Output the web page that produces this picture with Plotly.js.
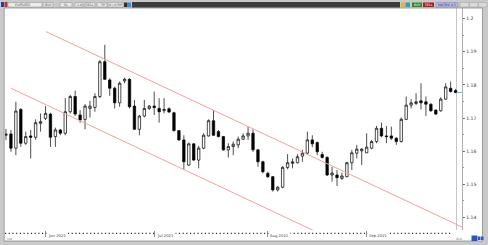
<!DOCTYPE html>
<html><head><meta charset="utf-8">
<script src="https://cdn.plot.ly/plotly-3.0.1.min.js"></script>
<style>html,body{margin:0;padding:0;background:#fff;overflow:hidden}#chart{width:488px;height:245px}</style>
</head><body><div id="chart"></div>
<script>
// Daily EURUSD candles
const openP  = [1.1648,1.1652,1.1609,1.1726,1.1624,1.1646,1.1642,1.1684,1.1699,1.1712,1.1644,1.1664,1.1654,1.1719,1.1765,1.1709,1.1696,1.1729,1.1732,1.1765,1.1870,1.1815,1.1790,1.1746,1.1812,1.1817,1.1736,1.1666,1.1706,1.1729,1.1736,1.1729,1.1722,1.1728,1.1716,1.1662,1.1634,1.1558,1.1622,1.1573,1.1609,1.1646,1.1692,1.1659,1.1644,1.1604,1.1614,1.1619,1.1636,1.1646,1.1654,1.1604,1.1568,1.1533,1.1523,1.1483,1.1491,1.1551,1.1563,1.1565,1.1585,1.1594,1.1634,1.1626,1.1590,1.1581,1.1528,1.1528,1.1518,1.1523,1.1565,1.1594,1.1601,1.1595,1.1609,1.1629,1.1669,1.1646,1.1646,1.1639,1.1629,1.1696,1.1739,1.1744,1.1752,1.1749,1.1742,1.1724,1.1722,1.1757,1.1790,1.1783];
const highP  = [1.1667,1.1664,1.1749,1.1730,1.1659,1.1664,1.1696,1.1714,1.1736,1.1716,1.1671,1.1667,1.1760,1.1770,1.1783,1.1724,1.1742,1.1752,1.1775,1.1875,1.1921,1.1820,1.1795,1.1810,1.1822,1.1820,1.1755,1.1709,1.1755,1.1739,1.1780,1.1760,1.1760,1.1732,1.1719,1.1664,1.1648,1.1626,1.1624,1.1616,1.1654,1.1696,1.1724,1.1664,1.1646,1.1624,1.1629,1.1644,1.1654,1.1674,1.1666,1.1606,1.1571,1.1538,1.1525,1.1495,1.1555,1.1591,1.1578,1.1591,1.1604,1.1659,1.1648,1.1629,1.1598,1.1585,1.1553,1.1543,1.1535,1.1568,1.1604,1.1619,1.1609,1.1654,1.1634,1.1676,1.1686,1.1676,1.1674,1.1642,1.1702,1.1765,1.1757,1.1775,1.1805,1.1765,1.1744,1.1726,1.1763,1.1805,1.1810,1.1788];
const lowP   = [1.1634,1.1598,1.1588,1.1613,1.1619,1.1578,1.1634,1.1659,1.1694,1.1613,1.1613,1.1648,1.1648,1.1714,1.1706,1.1686,1.1666,1.1702,1.1719,1.1760,1.1815,1.1767,1.1729,1.1734,1.1805,1.1729,1.1664,1.1648,1.1702,1.1724,1.1709,1.1686,1.1714,1.1716,1.1659,1.1631,1.1543,1.1555,1.1571,1.1548,1.1606,1.1644,1.1646,1.1642,1.1601,1.1581,1.1588,1.1609,1.1634,1.1634,1.1598,1.1553,1.1533,1.1519,1.1478,1.1478,1.1488,1.1545,1.1548,1.1563,1.1568,1.1591,1.1612,1.1588,1.1578,1.1525,1.1508,1.1495,1.1513,1.1521,1.1543,1.1578,1.1558,1.1594,1.1606,1.1624,1.1642,1.1624,1.1634,1.1619,1.1626,1.1694,1.1729,1.1739,1.1726,1.1706,1.1719,1.1709,1.1719,1.1755,1.1777,1.1775];
const closeP = [1.1651,1.1609,1.1721,1.1624,1.1644,1.1642,1.1686,1.1689,1.1714,1.1642,1.1664,1.1654,1.1719,1.1765,1.1712,1.1694,1.1736,1.1736,1.1765,1.1870,1.1817,1.1790,1.1746,1.1805,1.1817,1.1734,1.1666,1.1706,1.1729,1.1736,1.1732,1.1719,1.1726,1.1718,1.1662,1.1634,1.1568,1.1622,1.1573,1.1609,1.1648,1.1692,1.1648,1.1644,1.1604,1.1614,1.1621,1.1636,1.1646,1.1654,1.1604,1.1568,1.1538,1.1523,1.1483,1.1491,1.1551,1.1565,1.1568,1.1583,1.1594,1.1634,1.1622,1.1598,1.1581,1.1528,1.1534,1.1520,1.1525,1.1565,1.1595,1.1606,1.1606,1.1612,1.1629,1.1669,1.1646,1.1644,1.1639,1.1629,1.1696,1.1739,1.1746,1.1749,1.1746,1.1742,1.1722,1.1712,1.1757,1.1794,1.1780,1.1777];

// Month separators on the time scale (bar index) and their labels
const monthBars   = [8, 30, 53, 73];
const monthLabels = ['Jun 2021', 'Jul 2021', 'Aug 2021', 'Sep 2021'];

// Price scale labels
const priceTicks  = [1.14, 1.15, 1.16, 1.17, 1.18, 1.19, 1.20];
const priceLabels = ['1.14', '1.15', '1.16', '1.17', '1.18', '1.19', '1.2'];

// Descending channel (bar index, price)
const upperChannelBars   = [8.1, 94];
const upperChannelPrices = [1.1961, 1.1359];
const lowerChannelBars   = [1.0, 70];
const lowerChannelPrices = [1.1790, 1.1306];

const bars = openP.map((_, i) => i);

// ---- decoration helpers (window frame, pixel -> paper) ----
const PL = 5, PR = 462, PT = 8, PB = 230;
const X = px => (px - PL) / (PR - PL);
const Y = py => (PB - py) / (PB - PT);
const shapes = [];
const ann = [];
function rect(x0, y0, x1, y1, fill, line, layer) {
  shapes.push({type:'rect', xref:'paper', yref:'paper', x0:X(x0), x1:X(x1), y0:Y(y1), y1:Y(y0),
    fillcolor:fill, line:{width: line ? 0.6 : 0, color: line || fill}, layer: layer || 'above'});
}
function hline(x0, x1, y, color, w, dash) {
  shapes.push({type:'line', xref:'paper', yref:'paper', x0:X(x0), x1:X(x1), y0:Y(y), y1:Y(y),
    line:{color, width:w||1, dash:dash||'solid'}});
}
function vline(x, y0, y1, color, w, layer) {
  shapes.push({type:'line', xref:'paper', yref:'paper', x0:X(x), x1:X(x), y0:Y(y0), y1:Y(y1),
    line:{color, width:w||1}, layer: layer || 'above'});
}
function txt(px, py, s, color, size, anchor) {
  ann.push({xref:'paper', yref:'paper', x:X(px), y:Y(py), text:s, showarrow:false,
    xanchor:anchor||'left', yanchor:'middle', font:{size:size||4, color:color||'#333', family:'DejaVu Sans'}});
}

const FRAME = '#c9c9c9';
// frame
rect(0, 0, 488, 8, FRAME);
rect(0, 0, 4, 245, FRAME);
rect(482.5, 0, 488, 245, FRAME);
rect(0, 241, 488, 245, FRAME);
hline(4, 482.5, 8, '#8a8a8a', 0.8);
hline(4, 482.5, 241, '#8a8a8a', 0.8);
vline(4.2, 8, 241, '#8a8a8a', 0.8);
vline(482.5, 8, 241, '#8a8a8a', 0.8);
vline(456.5, 8, 230, '#b8b8b8', 0.8, 'below');
// toolbar
rect(1, 2, 4, 7, '#2a3f9a');
rect(4.5, 2, 7.5, 7, '#c23535');
rect(8, 2.5, 42, 7, '#ececec', '#9a9a9a');
txt(13, 4.8, 'EURUSD', '#555', 3.6);
const tb = [[43,53,'BUY'],[60,72,'SL'],[75,83,'1.0'],[85,95,'SELL'],[97,107,'TP'],[108,123,'0 / 0 PIP']];
tb.forEach(b => { rect(b[0], 2.5, b[1], 7, '#e6e6e6', '#9a9a9a'); txt((b[0]+b[1])/2, 4.8, b[2], '#555', 3.2, 'center'); });
rect(124, 2.5, 127.5, 7, '#303030');
rect(128, 2.5, 131, 7, '#2f8fe8');
rect(132, 2, 400, 7.5, '#3c3c3c');
rect(401, 2.5, 405, 7, '#e0b830');
rect(405.5, 2.5, 410, 7, '#3aa0a0');
rect(412, 2.5, 422, 7, '#2b8a2b');
txt(417, 4.8, 'BUY', '#fff', 3.2, 'center');
rect(423, 2.5, 434, 7, '#a52020');
txt(428.5, 4.8, 'SELL', '#fff', 3.2, 'center');
rect(436, 2.5, 458, 7, '#b9b9e3', '#8888bb');
txt(447, 4.8, 'MATRIX 4.5', '#223388', 3.2, 'center');
rect(460, 2.5, 469, 7, '#dadada', '#a8a8a8');
rect(469.5, 2.5, 478, 7, '#dadada', '#a8a8a8');
rect(478.5, 2.5, 487, 7, '#dadada', '#a8a8a8');
// bottom time scale dots and labels
hline(5, 452, 233.3, '#333', 1.3, '1.2px,2.5px');
rect(471.5, 235.5, 477.5, 241, '#2c55c4');
rect(478, 236.5, 480.5, 240, '#2c55c4');
rect(481, 236.5, 483.5, 240, '#2c55c4');
txt(4.5, 239.2, 'nst', '#777', 3.4);
txt(454, 239.5, 'Ard', '#777', 3.4);
monthBars.forEach((b, i) => {
  ann.push({x:b, xref:'x', y:Y(235), yref:'paper', text:monthLabels[i], showarrow:false,
    xanchor:'left', yanchor:'middle', xshift:0.5, font:{size:3.8, color:'#444', family:'DejaVu Sans'}, bgcolor:'#fff'});
});

const traces = [
  {type:'scatter', mode:'lines', x:upperChannelBars, y:upperChannelPrices, line:{color:'#f3a0a0', width:1}, hoverinfo:'skip'},
  {type:'scatter', mode:'lines', x:lowerChannelBars, y:lowerChannelPrices, line:{color:'#f3a0a0', width:1}, hoverinfo:'skip'},
  {type:'candlestick', x:bars, open:openP, high:highP, low:lowP, close:closeP, whiskerwidth:0,
    increasing:{line:{color:'#000', width:0.7}, fillcolor:'#ffffff'},
    decreasing:{line:{color:'#000', width:0.7}, fillcolor:'#000000'}, hoverinfo:'skip'},
  {type:'scatter', mode:'lines', x:[bars[bars.length-1]+0.2, bars[bars.length-1]+1.4],
    y:[closeP[closeP.length-1], closeP[closeP.length-1]], line:{color:'#5cc8d8', width:1}, hoverinfo:'skip'}
];

const layout = {
  width:488, height:245, showlegend:false,
  margin:{l:PL, r:488-PR, t:PT, b:245-PB, pad:0},
  paper_bgcolor:'#ffffff', plot_bgcolor:'#ffffff',
  font:{family:'DejaVu Sans', size:5, color:'#333'},
  xaxis:{range:[-0.2, 92.3], rangeslider:{visible:false}, showgrid:false, zeroline:false,
    tickvals:monthBars, ticks:'outside', ticklen:6, tickcolor:'#777', tickwidth:0.8,
    showticklabels:false, showline:false, fixedrange:true, automargin:false},
  yaxis:{range:[1.13619, 1.20323], side:'right', showgrid:false, zeroline:false,
    tickvals:priceTicks, ticktext:priceLabels, ticks:'outside', ticklen:2.5, tickcolor:'#555', tickwidth:0.8,
    minor:{dtick:0.005, tick0:1.14, ticks:'outside', ticklen:1.5, tickcolor:'#777'},
    showline:true, linecolor:'#9a9a9a', linewidth:0.8, mirror:false,
    tickfont:{size:4.6, color:'#333'}, fixedrange:true, automargin:false},
  shapes:shapes, annotations:ann
};
Plotly.newPlot('chart', traces, layout, {staticPlot:true, displayModeBar:false});
</script>
</body></html>
